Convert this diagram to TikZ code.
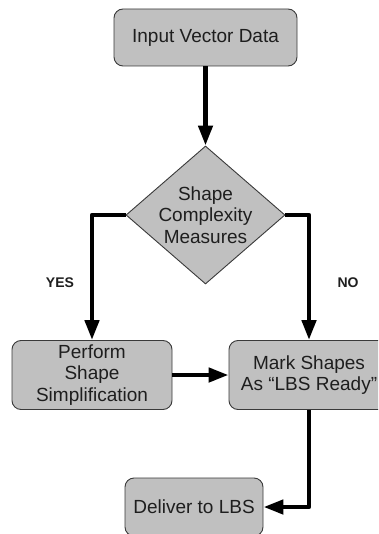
\documentclass[tikz,border=0pt]{standalone}
\usepackage{fontspec}
\setmainfont{Liberation Sans}
\usetikzlibrary{shapes.geometric,arrows.meta}
\definecolor{boxfill}{HTML}{C0C0C0}
\definecolor{boxline}{HTML}{3A3A3A}
\definecolor{txt}{HTML}{1E1E1E}
\tikzset{
  procbox/.style={draw=boxline, fill=boxfill, line width=0.9pt, rounded corners=9pt,
    align=center, text=txt, inner sep=0pt, font=\fontsize{19}{21.7}\selectfont},
  decbox/.style={diamond, draw=boxline, fill=boxfill, line width=0.9pt, inner sep=0pt},
  dectext/.style={align=center, text=txt, font=\fontsize{19}{21.7}\selectfont},
  arr/.style={line width=4.5pt, line join=round, -{Triangle[length=20pt,width=14pt]}},
  branchlabel/.style={font=\fontsize{14}{16}\selectfont\bfseries, text=txt}
}
\begin{document}
\begin{tikzpicture}[x=1pt,y=-1pt]
\useasboundingbox (0,0) rectangle (378,534);
\clip (0,0) rectangle (378,534);
\node[procbox, minimum width=183pt, minimum height=57pt] (in) at (205.5,37.5) {Input Vector Data};
\node[decbox, minimum width=159pt, minimum height=138pt] (dia) at (205.5,215) {};
\node[dectext] (diatext) at (205.5,215) {Shape\\Complexity\\Measures};
\node[procbox, minimum width=160pt, minimum height=69pt] (perf) at (92,375) {Perform\\Shape\\Simplification};
\node[procbox, minimum width=160pt, minimum height=69pt] (mark) at (309,375) {Mark Shapes\\As “LBS Ready”};
\node[procbox, minimum width=138pt, minimum height=58pt] (deliv) at (194,507) {Deliver to LBS};
\node[branchlabel] (yes) at (60,283) {YES};
\node[branchlabel] (no) at (348,283) {NO};
\draw[arr] (in.south) -- (dia.north);
\draw[arr] (dia.west) -| (perf.north);
\draw[arr] (dia.east) -| (mark.north);
\draw[arr] (perf.east) -- (mark.west);
\draw[arr] (mark.south) |- (deliv.east);
\end{tikzpicture}
\end{document}
